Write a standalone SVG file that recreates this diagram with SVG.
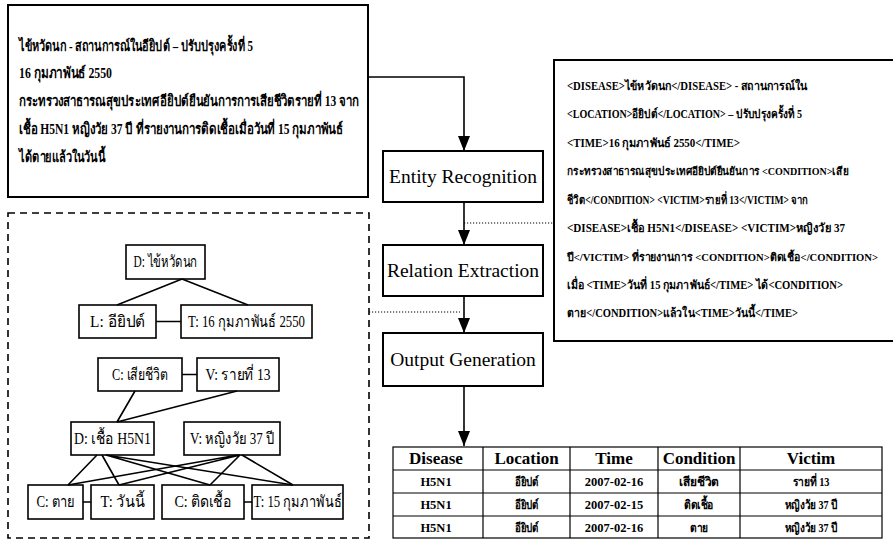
<svg xmlns="http://www.w3.org/2000/svg" width="893" height="549" viewBox="0 0 893 549">
  <style>
    .bg { fill: #ffffff; }
    .box { fill: #ffffff; stroke: #000000; stroke-width: 2; }
    .node { fill: #ffffff; stroke: #000000; stroke-width: 1.6; }
    .dashbox { fill: none; stroke: #000000; stroke-width: 1.6; stroke-dasharray: 7 5; }
    .edge { fill: none; stroke: #000000; stroke-width: 1.6; }
    .flow { fill: none; stroke: #000000; stroke-width: 1.6; }
    .dot { fill: none; stroke: #000000; stroke-width: 1.2; stroke-dasharray: 1.2 1.8; }
    .grid { fill: none; stroke: #000000; stroke-width: 1.2; }
    text { font-family: 'Liberation Serif', 'DejaVu Serif', serif; fill: #000000; }
    .doc { font-size: 15px; font-weight: bold; }
    .tag { font-size: 12px; font-weight: bold; }
    .tag.long { font-size: 11px; }
    .step { font-size: 19.5px; text-anchor: middle; }
    .lbl { font-size: 16px; text-anchor: middle; }
    .th { font-size: 17px; font-weight: bold; text-anchor: middle; }
    .td { font-size: 12.5px; font-weight: bold; text-anchor: middle; }
  </style>
  <defs>
    <marker id="arr" viewBox="0 0 15 12" refX="15" refY="6" markerWidth="15" markerHeight="12" markerUnits="userSpaceOnUse" orient="auto">
      <path d="M0,0 L15,6 L0,12 z" fill="#000000"/>
    </marker>
  </defs>

  <rect class="bg" x="0" y="0" width="893" height="549"/>

  <!-- source news text -->
  <g id="source-text">
    <rect class="box" x="8" y="5" width="360" height="192"/>
    <text class="doc" x="19" y="51" textLength="234" lengthAdjust="spacingAndGlyphs">ไข้หวัดนก - สถานการณ์ในอียิปต์ – ปรับปรุงครั้งที่ 5</text>
    <text class="doc" x="19" y="78" textLength="93" lengthAdjust="spacingAndGlyphs">16 กุมภาพันธ์ 2550</text>
    <text class="doc" x="19" y="106" textLength="340" lengthAdjust="spacingAndGlyphs">กระทรวงสาธารณสุขประเทศอียิปต์ยืนยันการการเสียชีวิตรายที่ 13 จาก</text>
    <text class="doc" x="19" y="134" textLength="324" lengthAdjust="spacingAndGlyphs">เชื้อ H5N1 หญิงวัย 37 ปี ที่รายงานการติดเชื้อเมื่อวันที่ 15 กุมภาพันธ์</text>
    <text class="doc" x="19" y="162" textLength="86" lengthAdjust="spacingAndGlyphs">ได้ตายแล้วในวันนี้</text>
  </g>

  <!-- processing steps -->
  <g id="entity-recognition">
    <rect class="box" x="383" y="151" width="160" height="51"/>
    <text class="step" x="463" y="183">Entity Recognition</text>
  </g>
  <g id="relation-extraction">
    <rect class="box" x="383" y="245" width="160" height="51"/>
    <text class="step" x="463" y="277">Relation Extraction</text>
  </g>
  <g id="output-generation">
    <rect class="box" x="383" y="333" width="160" height="53"/>
    <text class="step" x="463" y="366">Output Generation</text>
  </g>

  <!-- tagged text -->
  <g id="tagged-text">
    <path class="box" d="M893,60 H554 V341 H893"/>
    <text class="tag" x="567" y="90" textLength="240" lengthAdjust="spacingAndGlyphs">&lt;DISEASE&gt;ไข้หวัดนก&lt;/DISEASE&gt; - สถานการณ์ใน</text>
    <text class="tag" x="567" y="118" textLength="235" lengthAdjust="spacingAndGlyphs">&lt;LOCATION&gt;อียิปต์&lt;/LOCATION&gt; – ปรับปรุงครั้งที่ 5</text>
    <text class="tag" x="567" y="147" textLength="173" lengthAdjust="spacingAndGlyphs">&lt;TIME&gt;16 กุมภาพันธ์ 2550&lt;/TIME&gt;</text>
    <text class="tag long" x="567" y="175" textLength="281" lengthAdjust="spacingAndGlyphs">กระทรวงสาธารณสุขประเทศอียิปต์ยืนยันการ &lt;CONDITION&gt;เสีย</text>
    <text class="tag" x="567" y="204" textLength="241" lengthAdjust="spacingAndGlyphs">ชีวิต&lt;/CONDITION&gt; &lt;VICTIM&gt;รายที่ 13&lt;/VICTIM&gt; จาก</text>
    <text class="tag" x="567" y="232" textLength="278" lengthAdjust="spacingAndGlyphs">&lt;DISEASE&gt;เชื้อ H5N1&lt;/DISEASE&gt; &lt;VICTIM&gt;หญิงวัย 37</text>
    <text class="tag long" x="567" y="261" textLength="311" lengthAdjust="spacingAndGlyphs">ปี&lt;/VICTIM&gt; ที่รายงานการ &lt;CONDITION&gt;ติดเชื้อ&lt;/CONDITION&gt;</text>
    <text class="tag" x="567" y="289" textLength="276" lengthAdjust="spacingAndGlyphs">เมื่อ &lt;TIME&gt;วันที่ 15 กุมภาพันธ์&lt;/TIME&gt; ได้&lt;CONDITION&gt;</text>
    <text class="tag" x="567" y="317" textLength="231" lengthAdjust="spacingAndGlyphs">ตาย&lt;/CONDITION&gt;แล้วใน&lt;TIME&gt;วันนี้&lt;/TIME&gt;</text>
  </g>

  <!-- relation graph frame -->
  <g id="relation-graph">
    <rect class="dashbox" x="8" y="213" width="361" height="325"/>
  </g>
  <g id="n-d1">
    <rect class="node" x="126" y="245" width="79" height="34"/>
    <text class="lbl" x="165.5" y="267" textLength="64" lengthAdjust="spacingAndGlyphs">D: ไข้หวัดนก</text>
  </g>
  <g id="n-l1">
    <rect class="node" x="79" y="305" width="77" height="33"/>
    <text class="lbl" x="117.5" y="327" textLength="55" lengthAdjust="spacingAndGlyphs">L: อียิปต์</text>
  </g>
  <g id="n-t1">
    <rect class="node" x="181" y="305" width="131" height="33"/>
    <text class="lbl" x="246.5" y="327" textLength="117" lengthAdjust="spacingAndGlyphs">T: 16 กุมภาพันธ์ 2550</text>
  </g>
  <g id="n-c1">
    <rect class="node" x="98" y="358" width="84" height="33"/>
    <text class="lbl" x="140" y="380" textLength="56" lengthAdjust="spacingAndGlyphs">C: เสียชีวิต</text>
  </g>
  <g id="n-v1">
    <rect class="node" x="197" y="358" width="82" height="33"/>
    <text class="lbl" x="238" y="380" textLength="65" lengthAdjust="spacingAndGlyphs">V: รายที่ 13</text>
  </g>
  <g id="n-d2">
    <rect class="node" x="71" y="422" width="83" height="33"/>
    <text class="lbl" x="112.5" y="444" textLength="77" lengthAdjust="spacingAndGlyphs">D: เชื้อ H5N1</text>
  </g>
  <g id="n-v2">
    <rect class="node" x="184" y="422" width="96" height="33"/>
    <text class="lbl" x="232" y="444" textLength="84" lengthAdjust="spacingAndGlyphs">V: หญิงวัย 37 ปี</text>
  </g>
  <g id="n-c2">
    <rect class="node" x="28" y="485" width="55" height="34"/>
    <text class="lbl" x="55.5" y="507" textLength="38" lengthAdjust="spacingAndGlyphs">C: ตาย</text>
  </g>
  <g id="n-t2">
    <rect class="node" x="91" y="485" width="63" height="34"/>
    <text class="lbl" x="122.5" y="507" textLength="44" lengthAdjust="spacingAndGlyphs">T: วันนี้</text>
  </g>
  <g id="n-c3">
    <rect class="node" x="162" y="485" width="82" height="34"/>
    <text class="lbl" x="203" y="507" textLength="57" lengthAdjust="spacingAndGlyphs">C: ติดเชื้อ</text>
  </g>
  <g id="n-t3">
    <rect class="node" x="252" y="485" width="91" height="34"/>
    <text class="lbl" x="297.5" y="507" textLength="88" lengthAdjust="spacingAndGlyphs">T: 15 กุมภาพันธ์</text>
  </g>

  <!-- result table -->
  <g id="result-table">
    <rect class="grid" x="393" y="447" width="489" height="91"/>
    <path class="grid" d="M393,470 H882 M393,493 H882 M393,516 H882 M483,447 V538 M570,447 V538 M658,447 V538 M740,447 V538"/>
    <text class="th" x="436" y="464">Disease</text>
    <text class="th" x="526.5" y="464">Location</text>
    <text class="th" x="614" y="464">Time</text>
    <text class="th" x="699" y="464">Condition</text>
    <text class="th" x="811" y="464">Victim</text>
    <text class="td" x="436" y="486">H5N1</text>
    <text class="td" x="526.5" y="486" textLength="24" lengthAdjust="spacingAndGlyphs">อียิปต์</text>
    <text class="td" x="614" y="486">2007-02-16</text>
    <text class="td" x="699" y="486" textLength="40" lengthAdjust="spacingAndGlyphs">เสียชีวิต</text>
    <text class="td" x="811" y="486" textLength="37" lengthAdjust="spacingAndGlyphs">รายที่ 13</text>
    <text class="td" x="436" y="509">H5N1</text>
    <text class="td" x="526.5" y="509" textLength="24" lengthAdjust="spacingAndGlyphs">อียิปต์</text>
    <text class="td" x="614" y="509">2007-02-15</text>
    <text class="td" x="699" y="509" textLength="30" lengthAdjust="spacingAndGlyphs">ติดเชื้อ</text>
    <text class="td" x="811" y="509" textLength="53" lengthAdjust="spacingAndGlyphs">หญิงวัย 37 ปี</text>
    <text class="td" x="436" y="532">H5N1</text>
    <text class="td" x="526.5" y="532" textLength="24" lengthAdjust="spacingAndGlyphs">อียิปต์</text>
    <text class="td" x="614" y="532">2007-02-16</text>
    <text class="td" x="699" y="532" textLength="18" lengthAdjust="spacingAndGlyphs">ตาย</text>
    <text class="td" x="811" y="532" textLength="53" lengthAdjust="spacingAndGlyphs">หญิงวัย 37 ปี</text>
  </g>

  <!-- connectors -->
  <g id="connectors">
    <path class="flow" d="M368,77 H464 V151" marker-end="url(#arr)"/>
    <path class="flow" d="M464,202 V245" marker-end="url(#arr)"/>
    <path class="flow" d="M464,296 V333" marker-end="url(#arr)"/>
    <path class="flow" d="M464,386 V446" marker-end="url(#arr)"/>
    <path class="dot" d="M464,223 H554"/>
    <path class="dot" d="M369,312 H460"/>
    <!-- graph edges -->
    <path class="edge" d="M182,279 L117,305 M182,279 L248,305 M156,321.5 H181"/>
    <path class="edge" d="M182,374.5 H197 M135,391 L117,422 M237,391 L117,422"/>
    <path class="edge" d="M97,455 L68,485 M102,455 L119,485 M106,455 L210,485 M106,455 L293,485"/>
    <path class="edge" d="M238,455 L68,485 M240,455 L119,485 M240,455 L210,485 M242,455 L293,485"/>
    <path class="edge" d="M83,502 H91 M244,502 H252"/>
  </g>
</svg>
